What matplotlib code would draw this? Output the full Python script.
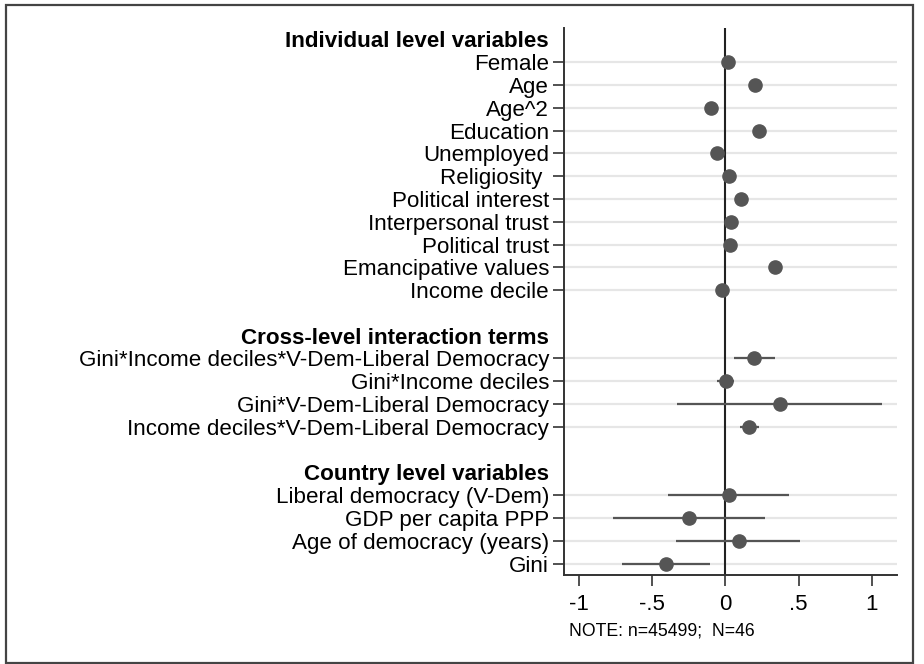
import matplotlib
matplotlib.use("Agg")
import matplotlib.pyplot as plt
from matplotlib.patches import Rectangle

plt.rcParams['font.family'] = ['Liberation Sans', 'DejaVu Sans']

# Row labels (headers included, "" = blank spacer row)
labels = [
    "Individual level variables", "Female", "Age", "Age^2", "Education", "Unemployed",
    "Religiosity ", "Political interest", "Interpersonal trust", "Political trust",
    "Emancipative values", "Income decile", "",
    "Cross-level interaction terms",
    "Gini*Income deciles*V-Dem-Liberal Democracy", "Gini*Income deciles",
    "Gini*V-Dem-Liberal Democracy", "Income deciles*V-Dem-Liberal Democracy", "",
    "Country level variables",
    "Liberal democracy (V-Dem)", "GDP per capita PPP", "Age of democracy (years)", "Gini",
]
headers = ["Individual level variables", "Cross-level interaction terms", "Country level variables"]

coef_names = [
    "Female", "Age", "Age^2", "Education", "Unemployed", "Religiosity ", "Political interest",
    "Interpersonal trust", "Political trust", "Emancipative values", "Income decile",
    "Gini*Income deciles*V-Dem-Liberal Democracy", "Gini*Income deciles",
    "Gini*V-Dem-Liberal Democracy", "Income deciles*V-Dem-Liberal Democracy",
    "Liberal democracy (V-Dem)", "GDP per capita PPP", "Age of democracy (years)", "Gini",
]
coef = [0.016, 0.20, -0.098, 0.226, -0.059, 0.021, 0.105, 0.041, 0.032, 0.337, -0.025,
        0.198, 0.003, 0.374, 0.164,
        0.023, -0.250, 0.089, -0.407]
ci_low = [0.004, 0.188, -0.110, 0.214, -0.075, 0.009, 0.093, 0.029, 0.020, 0.325, -0.035,
          0.055, -0.059, -0.332, 0.096,
          -0.394, -0.772, -0.337, -0.711]
ci_high = [0.028, 0.212, -0.086, 0.238, -0.043, 0.033, 0.117, 0.053, 0.044, 0.349, -0.015,
           0.340, 0.059, 1.073, 0.232,
           0.433, 0.267, 0.513, -0.105]
xticks = [-1, -0.5, 0, 0.5, 1]
xticklabels = ["-1", "-.5", "0", ".5", "1"]
note = "NOTE: n=45499;  N=46"

W, H = 924, 664
fig = plt.figure(figsize=(W / 100, H / 100), dpi=100)
ax = fig.add_axes([564.3 / W, 1 - 575 / H, (896.7 - 564.3) / W, (575 - 28) / H])

pos = {lab: i for i, lab in enumerate(labels) if lab}
ys = [pos[n] for n in coef_names]

for y in ys:
    ax.axhline(y, color="#e6e6e6", lw=1.6, zorder=0)
ax.axvline(0, color="#222222", lw=1.5, zorder=1)

mark = "#555555"
ax.hlines(ys, ci_low, ci_high, color=mark, lw=1.6, zorder=2)
ax.plot(coef, ys, "o", color=mark, ms=9.5, zorder=3, mec=mark)

ax.set_ylim(len(labels) - 0.5, -0.5)
ax.set_xlim(-1.1025, 1.171)

tick_pos = [i for i, lab in enumerate(labels) if lab]
ax.set_yticks(tick_pos)
ax.set_yticklabels([labels[i] for i in tick_pos], fontsize=16.1)
for t, i in zip(ax.get_yticklabels(), tick_pos):
    if labels[i] in headers:
        t.set_fontweight("bold")
ax.tick_params(axis="y", length=8, width=1.2, color="#333333", pad=3)
for tl, i in zip(ax.yaxis.get_major_ticks(), tick_pos):
    if labels[i] in headers:
        tl.tick1line.set_visible(False)

ax.set_xticks(xticks)
ax.set_xticklabels(xticklabels, fontsize=16)
ax.tick_params(axis="x", length=8, width=1.2, color="#333333", pad=6)

for s in ["top", "right"]:
    ax.spines[s].set_visible(False)
for s in ["left", "bottom"]:
    ax.spines[s].set_color("#333333")
    ax.spines[s].set_linewidth(1.4)

fig.text(569 / W, 1 - 631 / H, note, fontsize=12.7, va="center", ha="left")

fig.patches.append(Rectangle((6 / W, 1 - 663 / H), (913 - 6) / W, (663 - 5) / H,
                             transform=fig.transFigure, fill=False,
                             edgecolor="#444444", lw=1.6))

fig.savefig("out.png", dpi=100)
